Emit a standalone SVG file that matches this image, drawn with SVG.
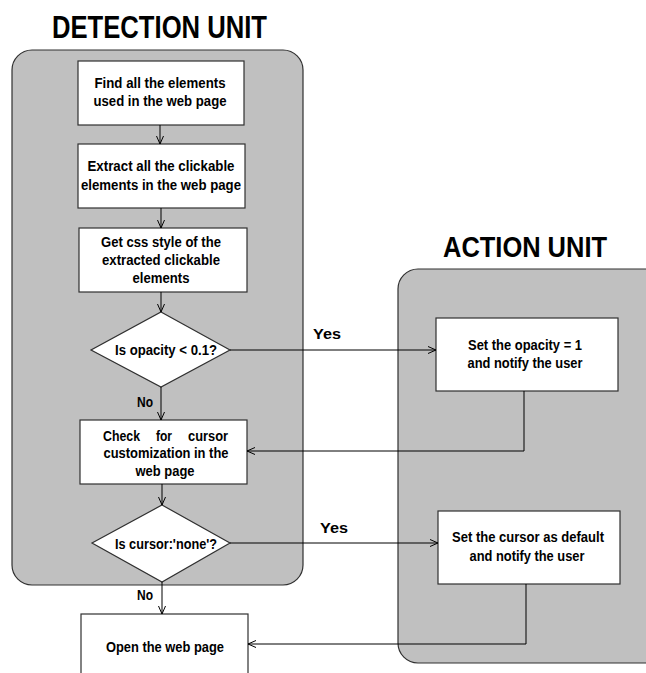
<svg xmlns="http://www.w3.org/2000/svg" width="646" height="673" viewBox="0 0 646 673">
<defs>
<marker id="arr" markerWidth="10" markerHeight="10" refX="9" refY="5" orient="auto" markerUnits="userSpaceOnUse">
<path d="M1,1.5 L9,5 L1,8.5" fill="none" stroke="#000" stroke-width="1"/>
</marker>
<style>
.cont{fill:#c0c0c0;stroke:#303030;stroke-width:1.2}
.box{fill:#fff;stroke:#303030;stroke-width:1.2}
.t{font-family:"Liberation Sans",Arial,sans-serif;font-weight:bold;font-size:15px;fill:#000;text-anchor:middle}
.s{font-family:"Liberation Sans",Arial,sans-serif;font-weight:bold;font-size:15px;fill:#000}
.title{font-family:"Liberation Sans",Arial,sans-serif;font-weight:bold;fill:#000}
.lbl{font-family:"Liberation Sans",Arial,sans-serif;font-weight:bold;font-size:15px;fill:#000}
.c{fill:none;stroke:#000;stroke-width:1}
</style>
</defs>
<g id="detection-unit">
<text class="title" x="52" y="38" font-size="32" textLength="215" lengthAdjust="spacingAndGlyphs">DETECTION UNIT</text>
<rect class="cont" x="12" y="50" width="291" height="535" rx="20"/>
</g>
<g id="action-unit">
<text class="title" x="443" y="257" font-size="29" textLength="164" lengthAdjust="spacingAndGlyphs">ACTION UNIT</text>
<rect class="cont" x="398" y="269" width="280" height="394" rx="20"/>
</g>
<g id="find-elements">
<rect class="box" x="78" y="61" width="166" height="64"/>
<text class="t" x="160" y="88" textLength="131" lengthAdjust="spacingAndGlyphs">Find all the elements</text>
<text class="t" x="160" y="106" textLength="133" lengthAdjust="spacingAndGlyphs">used in the web page</text>
</g>
<g id="extract-clickable">
<rect class="box" x="78" y="144" width="167" height="64"/>
<text class="t" x="161" y="171" textLength="147" lengthAdjust="spacingAndGlyphs">Extract all the clickable</text>
<text class="t" x="161" y="190" textLength="160" lengthAdjust="spacingAndGlyphs">elements in the web page</text>
</g>
<g id="get-css">
<rect class="box" x="79" y="228" width="168" height="64"/>
<text class="t" x="161" y="247" textLength="120" lengthAdjust="spacingAndGlyphs">Get css style of the</text>
<text class="t" x="161" y="265" textLength="118" lengthAdjust="spacingAndGlyphs">extracted  clickable</text>
<text class="t" x="161" y="283" textLength="57" lengthAdjust="spacingAndGlyphs">elements</text>
</g>
<g id="opacity-check">
<polygon class="box" points="161,312 230,350 161,387 91,350"/>
<text class="t" x="166" y="355" textLength="102" lengthAdjust="spacingAndGlyphs">Is opacity &lt; 0.1?</text>
</g>
<g id="cursor-customization">
<rect class="box" x="80" y="420" width="167" height="64"/>
<text class="s" x="103" y="441" textLength="37" lengthAdjust="spacingAndGlyphs">Check</text>
<text class="s" x="156" y="441" textLength="16" lengthAdjust="spacingAndGlyphs">for</text>
<text class="s" x="188" y="441" textLength="40" lengthAdjust="spacingAndGlyphs">cursor</text>
<text class="t" x="166" y="458" textLength="125" lengthAdjust="spacingAndGlyphs">customization in the</text>
<text class="t" x="165" y="476" textLength="59" lengthAdjust="spacingAndGlyphs">web page</text>
</g>
<g id="cursor-check">
<polygon class="box" points="162,505 230,543 162,582 92,543"/>
<text class="t" x="166" y="549" textLength="102" lengthAdjust="spacingAndGlyphs">Is cursor:'none'?</text>
</g>
<g id="open-page">
<rect class="box" x="81" y="614" width="167" height="70"/>
<text class="t" x="165" y="652" textLength="118" lengthAdjust="spacingAndGlyphs">Open the web page</text>
</g>
<g id="set-opacity">
<rect class="box" x="436" y="318" width="182" height="73"/>
<text class="t" x="525" y="350" textLength="114" lengthAdjust="spacingAndGlyphs">Set the opacity = 1</text>
<text class="t" x="525" y="368" textLength="115" lengthAdjust="spacingAndGlyphs">and notify the user</text>
</g>
<g id="set-cursor">
<rect class="box" x="438" y="511" width="182" height="73"/>
<text class="t" x="528" y="542" textLength="152" lengthAdjust="spacingAndGlyphs">Set the cursor as default</text>
<text class="t" x="527" y="561" textLength="115" lengthAdjust="spacingAndGlyphs">and notify the user</text>
</g>
<g id="connectors">
<line class="c" x1="160" y1="125" x2="160" y2="144" marker-end="url(#arr)"/>
<line class="c" x1="161" y1="208" x2="161" y2="228" marker-end="url(#arr)"/>
<line class="c" x1="161" y1="292" x2="161" y2="312" marker-end="url(#arr)"/>
<line class="c" x1="161" y1="387" x2="161" y2="420" marker-end="url(#arr)"/>
<line class="c" x1="162" y1="484" x2="162" y2="505" marker-end="url(#arr)"/>
<line class="c" x1="162" y1="582" x2="162" y2="614" marker-end="url(#arr)"/>
<line class="c" x1="230" y1="350" x2="436" y2="350" marker-end="url(#arr)"/>
<line class="c" x1="230" y1="543" x2="438" y2="543" marker-end="url(#arr)"/>
<polyline class="c" points="524,391 524,451 247,451" marker-end="url(#arr)"/>
<polyline class="c" points="526,584 526,644 248,644" marker-end="url(#arr)"/>
<text class="lbl" x="313" y="339" textLength="28" lengthAdjust="spacingAndGlyphs">Yes</text>
<text class="lbl" x="320" y="533" textLength="28" lengthAdjust="spacingAndGlyphs">Yes</text>
<text class="lbl" x="137" y="407" textLength="16" lengthAdjust="spacingAndGlyphs">No</text>
<text class="lbl" x="137" y="600" textLength="16" lengthAdjust="spacingAndGlyphs">No</text>
</g>
</svg>
